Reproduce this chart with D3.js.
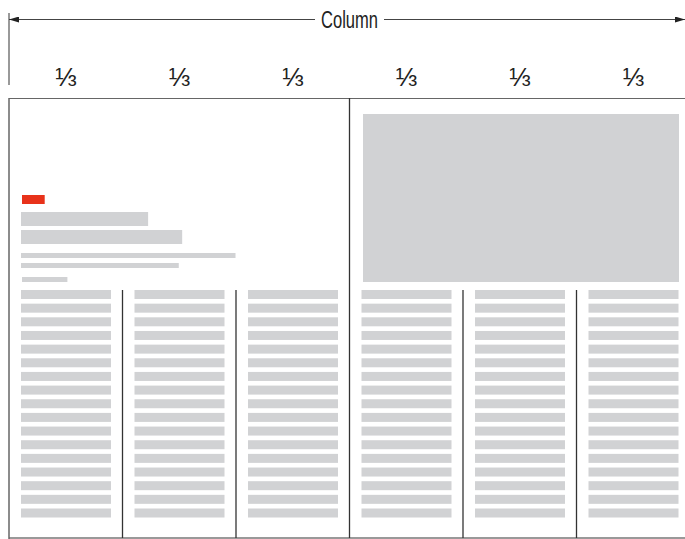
<!DOCTYPE html>
<html>
<head>
<meta charset="utf-8">
<script src="https://cdn.jsdelivr.net/npm/d3@7"></script>
<style>
  body { margin: 0; background: #fff; }
  svg { display: block; }
</style>
</head>
<body>
<svg width="685" height="539"></svg>
<script>

// page layout data, in column units
const title = 'Column';
const columnLabels = ['⅓', '⅓', '⅓', '⅓', '⅓', '⅓'];
const kickerWidth = [0.2];
const headlineWidths = [1.12, 1.42];
const deckWidths = [1.89, 1.39];
const bylineWidth = [0.4];
const bodyLines = [1, 1, 1, 1, 1, 1, 1, 1, 1, 1, 1, 1, 1, 1, 1, 1, 1];
const fullRules = [3];          // column break that runs full height
const shortRules = [1, 2, 4, 5]; // rules between body text columns

const svg = d3.select('svg'),
    width = +svg.attr('width'),
    height = +svg.attr('height');

const gray = '#d1d2d4',
    red = '#e8321a',
    ink = '#333';

const x = d3.scaleLinear().domain([0, 6]).range([9, 690]);
const colW = x(1) - x(0);
const inset = 12;

const yBody = d3.scaleLinear().domain([0, bodyLines.length - 1]).range([290, 508.5]);
const barH = 9;

// arrow defs
const defs = svg.append('defs');
defs.append('marker')
    .attr('id', 'arr')
    .attr('viewBox', '0 0 10 6')
    .attr('refX', 10).attr('refY', 3)
    .attr('markerWidth', 10).attr('markerHeight', 6)
    .attr('markerUnits', 'userSpaceOnUse')
    .attr('orient', 'auto-start-reverse')
    .append('path')
    .attr('d', 'M0,0L10,3L0,6Z')
    .attr('fill', '#222');

// dimension line
svg.append('line')
    .attr('x1', x(0)).attr('x2', x(0))
    .attr('y1', 13).attr('y2', 85)
    .attr('stroke', '#555').attr('stroke-width', 1.2);

svg.append('line')
    .attr('x1', x(0)).attr('x2', width)
    .attr('y1', 19.5).attr('y2', 19.5)
    .attr('stroke', '#444').attr('stroke-width', 1)
    .attr('marker-start', 'url(#arr)')
    .attr('marker-end', 'url(#arr)');

svg.append('rect')
    .attr('x', 315).attr('y', 8)
    .attr('width', 69).attr('height', 24)
    .attr('fill', '#fff');

svg.append('text')
    .attr('x', 349.5).attr('y', 27.5)
    .attr('text-anchor', 'middle')
    .attr('font-family', '"Liberation Sans Narrow", "Liberation Sans", sans-serif')
    .attr('font-size', 23)
    .attr('textLength', 57)
    .attr('lengthAdjust', 'spacingAndGlyphs')
    .attr('fill', '#222')
    .text(title);

// fraction labels
svg.append('g')
    .selectAll('text')
    .data(columnLabels)
    .join('text')
    .attr('x', (d, i) => x(i + 0.5))
    .attr('y', 86)
    .attr('text-anchor', 'middle')
    .attr('font-family', '"Liberation Sans", Arial, sans-serif')
    .attr('font-size', 26)
    .attr('fill', '#222')
    .text(d => d);

// page frame
svg.append('line')
    .attr('x1', x(0)).attr('x2', width)
    .attr('y1', 98.5).attr('y2', 98.5)
    .attr('stroke', '#666').attr('stroke-width', 1.2);
svg.append('line')
    .attr('x1', x(0)).attr('x2', width)
    .attr('y1', 538).attr('y2', 538)
    .attr('stroke', '#777').attr('stroke-width', 1.5);
svg.append('line')
    .attr('x1', x(0)).attr('x2', x(0))
    .attr('y1', 98).attr('y2', 539)
    .attr('stroke', '#666').attr('stroke-width', 1.5);

// column rules
svg.append('g')
    .selectAll('line')
    .data(fullRules)
    .join('line')
    .attr('x1', d => x(d)).attr('x2', d => x(d))
    .attr('y1', 98).attr('y2', 538)
    .attr('stroke', ink).attr('stroke-width', 1.3);

svg.append('g')
    .selectAll('line')
    .data(shortRules)
    .join('line')
    .attr('x1', d => x(d)).attr('x2', d => x(d))
    .attr('y1', 290).attr('y2', 538)
    .attr('stroke', ink).attr('stroke-width', 1.3);

// story head, left half
const left = x(0) + inset;

svg.append('rect')
    .attr('x', left + 1).attr('y', 195)
    .attr('width', kickerWidth[0] * colW).attr('height', 9)
    .attr('fill', red);

svg.append('g')
    .selectAll('rect')
    .data(headlineWidths)
    .join('rect')
    .attr('x', left)
    .attr('y', (d, i) => 212 + i * 18)
    .attr('width', d => d * colW)
    .attr('height', 14)
    .attr('fill', gray);

svg.append('g')
    .selectAll('rect')
    .data(deckWidths)
    .join('rect')
    .attr('x', left)
    .attr('y', (d, i) => 253 + i * 10)
    .attr('width', d => d * colW)
    .attr('height', 5)
    .attr('fill', gray);

svg.append('rect')
    .attr('x', left + 1).attr('y', 277)
    .attr('width', bylineWidth[0] * colW).attr('height', 5)
    .attr('fill', gray);

// picture, right half
svg.append('rect')
    .attr('x', x(3) + 13.5).attr('y', 114)
    .attr('width', x(6) - 11 - x(3) - 13.5)
    .attr('height', 168)
    .attr('fill', gray);

// body text lines in every column
const cols = svg.append('g')
    .selectAll('g')
    .data(columnLabels)
    .join('g')
    .attr('transform', (d, i) => 'translate(' + (x(i) + inset) + ',0)');

cols.selectAll('rect')
    .data(bodyLines)
    .join('rect')
    .attr('x', 0)
    .attr('y', (d, j) => yBody(j))
    .attr('width', d => d * (colW - inset * 2 + 0.5))
    .attr('height', barH)
    .attr('fill', gray);

</script>
</body>
</html>
